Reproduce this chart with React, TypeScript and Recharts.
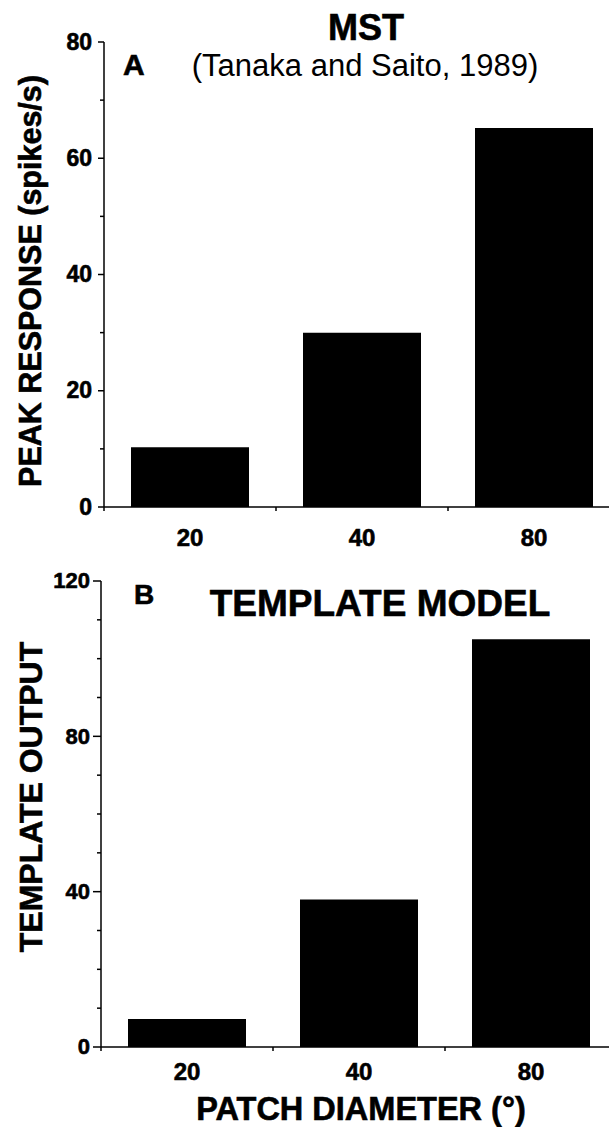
import React from 'react';
import { BarChart, Bar, XAxis, YAxis } from 'recharts';

// patch diameter categories (deg)
const categories = ['20', '40', '80'];

// panel A: MST peak response (spikes/s)
const mstResponse = [10.3, 30, 65.2];
const mstTicks = [0, 10, 20, 30, 40, 50, 60, 70, 80];
const mstLabels = [0, 20, 40, 60, 80];

// panel B: template model output
const templateOutput = [7.2, 38, 105];
const templateTicks = [0, 10, 20, 30, 40, 50, 60, 70, 80, 90, 100, 110, 120];
const templateLabels = [0, 40, 80, 120];

const FONT = '"Liberation Sans", Arial, Helvetica, sans-serif';
const PLOT_W = 516;
const BAND = PLOT_W / categories.length;

const mstData = categories.map((name, i) => ({ name, value: mstResponse[i] }));
const templateData = categories.map((name, i) => ({ name, value: templateOutput[i] }));

// bold text a bit heavier, like the scanned figure
const heavy = { fontWeight: 'bold' as const, stroke: '#000', strokeWidth: 0.6 };

function makeYTick(labels: number[], majorLen: number, fontSize: number, gap: number) {
  return (props: any) => {
    const { x, y, payload } = props;
    const labeled = labels.includes(payload.value);
    return (
      <g>
        <line x1={x - (labeled ? majorLen : 4)} x2={x} y1={y} y2={y} stroke="#000" strokeWidth={1.5} />
        {labeled && (
          <text x={x - gap} y={y} dy="0.33em" textAnchor="end" fontFamily={FONT} fontSize={fontSize} fill="#000" {...heavy}>
            {payload.value}
          </text>
        )}
      </g>
    );
  };
}

function makeXTick(labelOffset: number) {
  return (props: any) => {
    const { x, y, payload } = props;
    const edge = x - BAND / 2;
    return (
      <g>
        <line x1={edge} x2={edge} y1={y} y2={y + 4} stroke="#000" strokeWidth={1.5} />
        <text x={x} y={y + labelOffset} textAnchor="middle" fontFamily={FONT} fontSize={24} fill="#000" {...heavy}>
          {payload.value}
        </text>
      </g>
    );
  };
}

export default function App() {
  return (
    <div style={{ position: 'absolute', left: 0, top: 0, width: 609, height: 1127, overflow: 'hidden', background: '#fff' }}>
      <div style={{ position: 'absolute', left: 0, top: 0 }}>
        <BarChart width={640} height={560} data={mstData} margin={{ top: 42, right: 20, bottom: 0, left: 0 }} barCategoryGap={27}>
          <XAxis
            dataKey="name"
            height={53}
            interval={0}
            tickSize={0}
            tickMargin={0}
            tickLine={false}
            axisLine={{ stroke: '#000', strokeWidth: 1.5 }}
            tick={makeXTick(39)}
          />
          <YAxis
            type="number"
            width={104}
            domain={[0, 80]}
            ticks={mstTicks}
            interval={0}
            tickSize={0}
            tickMargin={0}
            tickLine={false}
            axisLine={{ stroke: '#000', strokeWidth: 1.5 }}
            tick={makeYTick(mstLabels, 6, 23, 12)}
          />
          <Bar dataKey="value" fill="#000" isAnimationActive={false} />
        </BarChart>
      </div>

      <div style={{ position: 'absolute', left: 0, top: 560 }}>
        <BarChart width={640} height={567} data={templateData} margin={{ top: 21, right: 23, bottom: 0, left: 0 }} barCategoryGap={27}>
          <XAxis
            dataKey="name"
            height={80}
            interval={0}
            tickSize={0}
            tickMargin={0}
            tickLine={false}
            axisLine={{ stroke: '#000', strokeWidth: 1.5 }}
            tick={makeXTick(33)}
          />
          <YAxis
            type="number"
            width={101}
            domain={[0, 120]}
            ticks={templateTicks}
            interval={0}
            tickSize={0}
            tickMargin={0}
            tickLine={false}
            axisLine={{ stroke: '#000', strokeWidth: 1.5 }}
            tick={makeYTick(templateLabels, 8, 22, 11)}
          />
          <Bar dataKey="value" fill="#000" isAnimationActive={false} />
        </BarChart>
      </div>

      {/* titles and axis labels */}
      <svg width={609} height={1127} style={{ position: 'absolute', left: 0, top: 0, pointerEvents: 'none' }}>
        <g fontFamily={FONT} fill="#000">
          <text x={366} y={40} textAnchor="middle" fontSize={36} {...heavy}>MST</text>
          <text x={365} y={76} textAnchor="middle" fontSize={31}>(Tanaka and Saito, 1989)</text>
          <text x={123} y={75} fontSize={30} {...heavy}>A</text>
          <text x={41} y={281} transform="rotate(-90 41 281)" textAnchor="middle" fontSize={30.5} {...heavy}>
            PEAK RESPONSE (spikes/s)
          </text>

          <text x={134} y={604} fontSize={28} {...heavy}>B</text>
          <text x={380} y={616} textAnchor="middle" fontSize={37} {...heavy}>TEMPLATE MODEL</text>
          <text x={42} y={797} transform="rotate(-90 42 797)" textAnchor="middle" fontSize={32} {...heavy}>
            TEMPLATE OUTPUT
          </text>
          <text x={361} y={1120} textAnchor="middle" fontSize={32.5} {...heavy}>PATCH DIAMETER (°)</text>
        </g>
      </svg>
    </div>
  );
}
